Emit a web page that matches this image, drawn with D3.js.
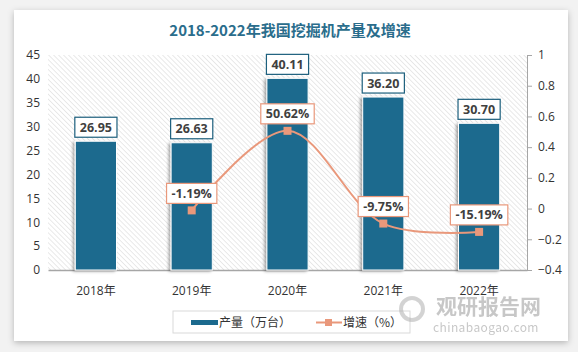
<!DOCTYPE html>
<html>
<head>
<meta charset="utf-8">
<script src="https://cdn.jsdelivr.net/npm/d3@7"></script>
<style>
  body { margin:0; background:#f2f2f2; }
  text { font-family: "Noto Sans CJK SC", "Noto Sans", sans-serif; }
</style>
</head>
<body>
<div id="vis-container"></div>
<script>
//data
let years = ["2018年", "2019年", "2020年", "2021年", "2022年"];
let output = [26.95, 26.63, 40.11, 36.20, 30.70];
let growth = [null, -1.19, 50.62, -9.75, -15.19];
let leftTicks = [0, 5, 10, 15, 20, 25, 30, 35, 40, 45];
let rightTicks = [-0.4, -0.2, 0, 0.2, 0.4, 0.6, 0.8, 1];

let W = 578, H = 352;
let margin = {top:55, right:51, bottom:82, left:48};
let width = W - margin.left - margin.right;
let height = H - margin.top - margin.bottom;

let barColor = "#1c6a8e";
let lineColor = "#e9987b";

let svg = d3.select("#vis-container")
  .append("svg")
  .attr("width", W)
  .attr("height", H);

let defs = svg.append("defs");

//card shadow
let fs = defs.append("filter").attr("id", "cardShadow")
  .attr("x", "-10%").attr("y", "-10%").attr("width", "120%").attr("height", "120%");
fs.append("feDropShadow").attr("dx", 0).attr("dy", 2).attr("stdDeviation", 3)
  .attr("flood-color", "#000").attr("flood-opacity", 0.25);

//bar shadow
let bs = defs.append("filter").attr("id", "barShadow")
  .attr("x", "-30%").attr("y", "-10%").attr("width", "160%").attr("height", "120%");
bs.append("feDropShadow").attr("dx", -2).attr("dy", 1).attr("stdDeviation", 1.5)
  .attr("flood-color", "#000").attr("flood-opacity", 0.35);

//hatch pattern
let pat = defs.append("pattern").attr("id", "hatch")
  .attr("patternUnits", "userSpaceOnUse")
  .attr("width", 3.5).attr("height", 3.5)
  .attr("patternTransform", "rotate(-45)");
pat.append("rect").attr("width", 3.5).attr("height", 3.5).attr("fill", "#fff");
pat.append("line").attr("x1", 0).attr("y1", 0).attr("x2", 0).attr("y2", 3.5)
  .attr("stroke", "#d3d3d3").attr("stroke-width", 1);

//card
svg.append("rect")
  .attr("x", 14).attr("y", 10).attr("width", 554).attr("height", 331)
  .attr("fill", "#fff")
  .attr("filter", "url(#cardShadow)");

//title
svg.append("text")
  .attr("x", 290).attr("y", 36)
  .attr("text-anchor", "middle")
  .attr("font-size", "15px")
  .attr("font-weight", "bold")
  .attr("fill", "#2a6d8c")
  .text("2018-2022年我国挖掘机产量及增速");

let g = svg.append("g")
  .attr("transform", `translate(${margin.left}, ${margin.top})`);

//scales
let x = d3.scaleBand().domain(years).range([0, width]).paddingInner(0.57).paddingOuter(0.285);
let y = d3.scaleLinear().domain([0, 45]).range([height, 0]);
let y2 = d3.scaleLinear().domain([-0.4, 1]).range([height, 0]);

//plot background
g.append("rect")
  .attr("width", width).attr("height", height)
  .attr("fill", "url(#hatch)");

//left axis
let yAxisGroup = g.append("g").attr("class", "y axis")
  .call(d3.axisLeft(y).tickValues(leftTicks).tickSize(0).tickPadding(8));
yAxisGroup.select(".domain").remove();

//right axis
let y2AxisGroup = g.append("g").attr("class", "y2 axis")
  .attr("transform", `translate(${width},0)`)
  .call(d3.axisRight(y2).tickValues(rightTicks).tickSize(5).tickPadding(6)
    .tickFormat(d => d3.format("")(+d.toFixed(1))));
y2AxisGroup.select(".domain").attr("stroke", "#a6a6a6");
y2AxisGroup.selectAll(".tick line").attr("stroke", "#a6a6a6");

//x axis
let xAxisGroup = g.append("g").attr("class", "x axis")
  .attr("transform", `translate(0,${height})`)
  .call(d3.axisBottom(x).tickSize(0).tickPadding(16));
xAxisGroup.select(".domain").attr("stroke", "#a6a6a6").attr("stroke-width", 1.5);

svg.selectAll(".axis text")
  .attr("font-size", "12px")
  .attr("fill", "#333")
  .style("font-family", "'Open Sans', 'Noto Sans CJK SC', sans-serif");

//bars
g.selectAll("rect.bar")
  .data(output)
  .enter()
  .append("rect")
  .attr("class", "bar")
  .attr("x", (d, i) => x(years[i]))
  .attr("y", d => y(d))
  .attr("width", x.bandwidth())
  .attr("height", d => height - y(d))
  .attr("fill", barColor)
  .attr("stroke", "#fff")
  .attr("stroke-width", 1)
  .attr("filter", "url(#barShadow)");

//line
let pts = growth.map((d, i) => ({year: years[i], v: d})).filter(d => d.v !== null);
let line = d3.line()
  .x(d => x(d.year) + x.bandwidth() / 2)
  .y(d => y2(d.v / 100))
  .curve(d3.curveCatmullRom.alpha(0.5));

g.append("path")
  .datum(pts)
  .attr("d", line)
  .attr("fill", "none")
  .attr("stroke", lineColor)
  .attr("stroke-width", 2);

g.selectAll("rect.marker")
  .data(pts)
  .enter()
  .append("rect")
  .attr("class", "marker")
  .attr("x", d => x(d.year) + x.bandwidth() / 2 - 4)
  .attr("y", d => y2(d.v / 100) - 4)
  .attr("width", 8).attr("height", 8)
  .attr("fill", lineColor);

//label helper
function addLabel(cx, cy, txt, border) {
  let lg = g.append("g");
  let box = lg.append("rect");
  let t = lg.append("text")
    .attr("x", cx).attr("y", cy + 4.5)
    .attr("text-anchor", "middle")
    .attr("font-size", "12.5px")
    .attr("font-weight", "bold")
    .attr("fill", "#404040")
    .style("font-family", "'Open Sans', sans-serif")
    .text(txt);
  let w = t.node().getComputedTextLength() + 10;
  box.attr("x", cx - w / 2).attr("y", cy - 10)
    .attr("width", w).attr("height", 20)
    .attr("fill", "#fff")
    .attr("stroke", border)
    .attr("stroke-width", 1.2);
}

output.forEach((d, i) => {
  addLabel(x(years[i]) + x.bandwidth() / 2, y(d) - 14, d.toFixed(2), "#1c5f7d");
});

pts.forEach(d => {
  addLabel(x(d.year) + x.bandwidth() / 2, y2(d.v / 100) - 17, d.v.toFixed(2) + "%", lineColor);
});

//legend
let gLegend = svg.append("g");
gLegend.append("rect")
  .attr("x", 173).attr("y", 311).attr("width", 237).attr("height", 22)
  .attr("fill", "#fff").attr("stroke", "#d9d9d9");
gLegend.append("rect")
  .attr("x", 191).attr("y", 320).attr("width", 27).attr("height", 5)
  .attr("fill", barColor);
gLegend.append("text")
  .attr("x", 219).attr("y", 327)
  .attr("font-size", "12px").attr("fill", "#333")
  .text("产量（万台）");
gLegend.append("line")
  .attr("x1", 316).attr("x2", 342).attr("y1", 322.5).attr("y2", 322.5)
  .attr("stroke", lineColor).attr("stroke-width", 2);
gLegend.append("rect")
  .attr("x", 325).attr("y", 319).attr("width", 7).attr("height", 7)
  .attr("fill", lineColor);
gLegend.append("text")
  .attr("x", 343).attr("y", 327)
  .attr("font-size", "12px").attr("fill", "#333")
  .text("增速（%）");

//watermark
let wm = svg.append("g").attr("opacity", 0.55);
wm.append("circle").attr("cx", 412).attr("cy", 309).attr("r", 11)
  .attr("fill", "none").attr("stroke", "#b0b0b0").attr("stroke-width", 4);
wm.append("text")
  .attr("x", 436).attr("y", 314)
  .attr("font-size", "21px").attr("font-weight", "bold").attr("fill", "#9a9a9a")
  .text("观研报告网");
wm.append("text")
  .attr("x", 433).attr("y", 332)
  .attr("font-size", "12px").attr("fill", "#9a9a9a")
  .attr("letter-spacing", "0.4px")
  .text("chinabaogao.com");
</script>
</body>
</html>
